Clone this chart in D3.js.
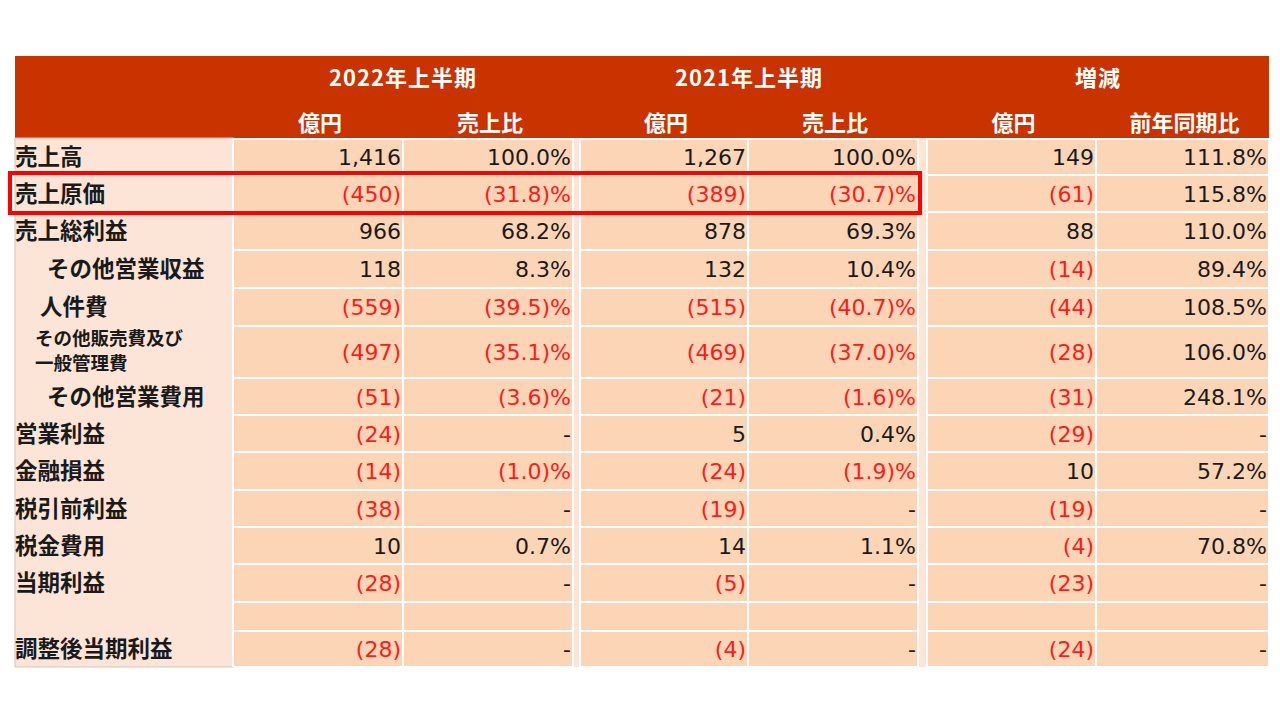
<!DOCTYPE html>
<html><head><meta charset="utf-8">
<script src="https://cdn.jsdelivr.net/npm/d3@7"></script>
<style>
html,body{margin:0;padding:0;background:#fff;}
svg{display:block;}
</style></head>
<body>
<svg id="chart" width="1280" height="720"></svg>
<script>
// ---- data ----
const rowLabels = ["売上高","売上原価","売上総利益","その他営業収益","人件費","その他販売費及び|一般管理費","その他営業費用","営業利益","金融損益","税引前利益","税金費用","当期利益","","調整後当期利益"];
const amount2022 = [1416,-450,966,118,-559,-497,-51,-24,-14,-38,10,-28,null,-28];
const ratio2022  = [100.0,-31.8,68.2,8.3,-39.5,-35.1,-3.6,"-",-1.0,"-",0.7,"-",null,"-"];
const amount2021 = [1267,-389,878,132,-515,-469,-21,5,-24,-19,14,-5,null,-4];
const ratio2021  = [100.0,-30.7,69.3,10.4,-40.7,-37.0,-1.6,0.4,-1.9,"-",1.1,"-",null,"-"];
const amountDiff = [149,-61,88,-14,-44,-28,-31,-29,10,-19,-4,-23,null,-24];
const ratioYoY   = [111.8,115.8,110.0,89.4,108.5,106.0,248.1,"-",57.2,"-",70.8,"-",null,"-"];
const groupHeaders = ["2022年上半期","2021年上半期","増減"];
const subHeaders = ["億円","売上比","億円","売上比","億円","前年同期比"];
const highlightRow = 1;

// ---- layout ----
const svg = d3.select("#chart");
const dataCols = [[233,403],[403,573],[580,748],[748,918],[927,1096],[1096,1269]];
const rowHeights = [36,37,38,38,38,52,37,37,38,37,37,38,29,36];
const tableTop = 56, headerBottom = 138;
const rowStarts = [];
{ let y = headerBottom+1; rowHeights.forEach(h=>{rowStarts.push(y); y+=h;}); }
const tableBottom = rowStarts[rowStarts.length-1] + rowHeights[rowHeights.length-1];
const yScale = d3.scaleOrdinal().domain(d3.range(rowLabels.length)).range(rowStarts);

const C = {header:"#C93300", label:"#FCE5D6", cell:"#FBD5B6", gap:"#FCE5D6", red:"#FF1A1A", black:"#1a1a1a"};
const numFont = "'DejaVu Sans', Verdana, sans-serif";
const jpFont = "'Noto Sans CJK JP', sans-serif";

// header
svg.append("rect").attr("x",15).attr("y",tableTop).attr("width",1269-15).attr("height",headerBottom-tableTop).attr("fill",C.header);

const groupSpans = [[233,573],[580,918],[927,1269]];
svg.selectAll("text.gh").data(groupHeaders).join("text")
  .attr("class","gh")
  .attr("x",(d,i)=>(groupSpans[i][0]+groupSpans[i][1])/2)
  .attr("y",86)
  .attr("text-anchor","middle")
  .attr("font-family",jpFont).attr("font-weight","bold").attr("font-size",22)
  .attr("letter-spacing",1)
  .attr("fill","#fff").text(d=>d);
svg.selectAll("text.sh").data(subHeaders).join("text")
  .attr("class","sh")
  .attr("x",(d,i)=>(dataCols[i][0]+dataCols[i][1])/2 + 2)
  .attr("y",131)
  .attr("text-anchor","middle")
  .attr("font-family",jpFont).attr("font-weight","bold").attr("font-size",22)
  .attr("fill","#fff").text(d=>d);

// body backgrounds
svg.append("rect").attr("x",15).attr("y",headerBottom).attr("width",233-15).attr("height",tableBottom-headerBottom)
  .attr("fill",C.label).attr("stroke","#d8c4bb").attr("stroke-width",1);
[[573,580],[918,927]].forEach(g=>{
  svg.append("rect").attr("x",g[0]).attr("y",headerBottom).attr("width",g[1]-g[0]).attr("height",tableBottom-headerBottom).attr("fill",C.gap);
});

const rows = d3.range(rowLabels.length);
const cellG = svg.append("g");
rows.forEach(r=>{
  dataCols.forEach(c=>{
    cellG.append("rect").attr("x",c[0]+1).attr("y",yScale(r)+1)
      .attr("width",c[1]-c[0]-2).attr("height",rowHeights[r]-2)
      .attr("fill",C.cell);
  });
});
[233,573,580,918,927].forEach(x=>{
  svg.append("line").attr("x1",x).attr("x2",x).attr("y1",headerBottom).attr("y2",tableBottom)
    .attr("stroke","#fff").attr("stroke-width",2);
});

// labels
const indents = [0,0,0,32,25,20,32,0,0,0,0,0,0,0];
const lbl = svg.append("g");
rows.forEach(r=>{
  const t = rowLabels[r];
  if(!t) return;
  const cy = yScale(r) + rowHeights[r]/2;
  const parts = t.split("|");
  if(parts.length===1){
    lbl.append("text").attr("x",15+indents[r]).attr("y",cy+8)
      .attr("font-family",jpFont).attr("font-weight","bold").attr("font-size",22.5)
      .attr("fill",C.black).text(t);
  } else {
    parts.forEach((p,k)=>{
      lbl.append("text").attr("x",15+indents[r]).attr("y",cy-7+k*25)
        .attr("font-family",jpFont).attr("font-weight","bold").attr("font-size",18.5)
        .attr("fill",C.black).text(p);
    });
  }
});

// values
const fmtAmt = d3.format(",");
const fmtPct = d3.format(".1f");
function amt(v){ return v<0 ? "("+fmtAmt(-v)+")" : fmtAmt(v); }
function pct(v){ if(v==="-") return "-"; return v<0 ? "("+fmtPct(-v)+")%" : fmtPct(v)+"%"; }
const series = [[amount2022,amt],[ratio2022,pct],[amount2021,amt],[ratio2021,pct],[amountDiff,amt],[ratioYoY,pct]];
const vals = svg.append("g");
series.forEach((s,ci)=>{
  const [arr,f] = s;
  rows.forEach(r=>{
    const v = arr[r];
    if(v===null||v===undefined) return;
    const neg = (typeof v==="number" && v<0);
    vals.append("text")
      .attr("x",dataCols[ci][1]-2)
      .attr("y",yScale(r)+rowHeights[r]/2+8)
      .attr("text-anchor","end")
      .attr("font-family",numFont).attr("font-size",22)
      .attr("fill",neg?C.red:C.black)
      .text(f(v));
  });
});

// highlight box
svg.append("rect").attr("x",10).attr("y",yScale(highlightRow)-2)
  .attr("width",920-10).attr("height",rowHeights[highlightRow]+3)
  .attr("fill","none").attr("stroke","#FF0000").attr("stroke-width",4);
</script>
</body></html>
